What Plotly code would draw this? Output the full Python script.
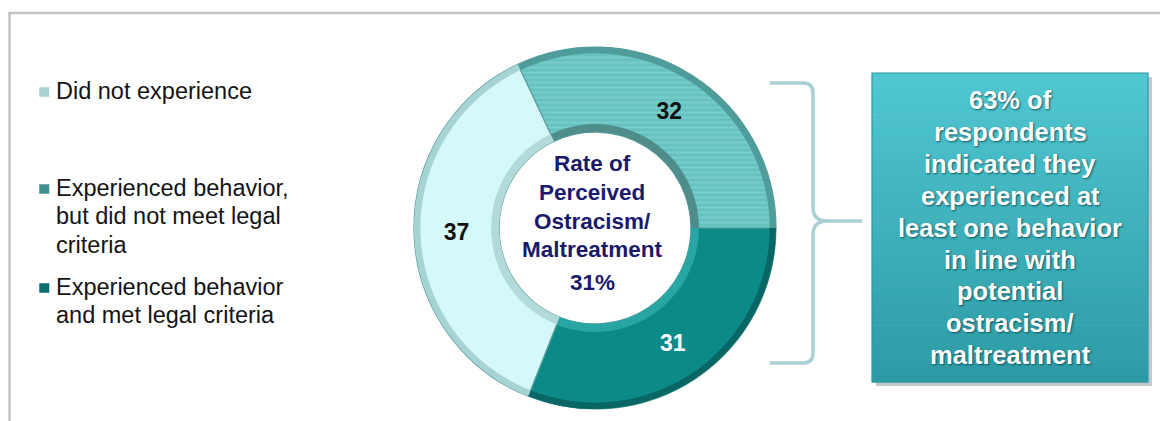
import plotly.graph_objects as go

W, H = 1160, 421

# ---- data -------------------------------------------------------------
categories = [
    "Did not experience",
    "Experienced behavior, but did not meet legal criteria",
    "Experienced behavior and met legal criteria",
]
legend_lines = [
    ["Did not experience"],
    ["Experienced behavior,", "but did not meet legal", "criteria"],
    ["Experienced behavior", "and met legal criteria"],
]
values = [37, 32, 31]
center_title = ["Rate of", "Perceived", "Ostracism/", "Maltreatment"]
callout_tail = ["respondents", "indicated they", "experienced at",
                "least one behavior", "in line with", "potential",
                "ostracism/", "maltreatment"]

# ---- styles -----------------------------------------------------------
FONT = "Liberation Sans, Arial, Helvetica, sans-serif"
slice_colors = ["#d5f8f8", "#66c2c0", "#0b8a87"]
rim_colors = ["#a6d3d3", "#4e9d9b", "#086764"]
inner_bevel_colors = ["#b2dada", "#4f8d8b", "#27a6a3"]
text_colors = ["#111111", "#111111", "#ffffff"]
legend_marker_colors = ["#a9d2d2", "#418f8f", "#0c6c6b"]
NAVY = "#1a1a6c"


def px(x):
    return x / W


def py(y):
    return 1 - y / H


# donut geometry in pixels
cx, cy, R = 595, 228, 181
HOLE = 0.53
r_in = R * HOLE
r_bevel = r_in + 8


def domain(r):
    return dict(x=[px(cx - r), px(cx + r)], y=[py(cy + r), py(cy - r)])


fig = go.Figure()

pie_common = dict(
    labels=categories,
    values=values,
    sort=False,
    direction="clockwise",
    rotation=201.6,
    showlegend=False,
)

# main ring
fig.add_trace(go.Pie(
    **pie_common,
    hole=HOLE,
    domain=domain(R),
    marker=dict(
        colors=slice_colors,
        line=dict(color="#5f9f9e", width=1.2),
        pattern=dict(shape=["", "-", ""],
                     fillmode="overlay",
                     fgcolor=["#ffffff", "#7dcfcd", "#ffffff"],
                     fgopacity=0.9,
                     size=5, solidity=0.35),
    ),
    texttemplate="%{value}",
    textposition="inside",
    insidetextorientation="horizontal",
    textfont=dict(family=FONT, size=23, color=text_colors, weight="bold"),
    hoverinfo="label+value",
))

# darker outer rim
fig.add_trace(go.Pie(
    **pie_common,
    hole=0.965,
    domain=domain(R),
    marker=dict(colors=rim_colors, line=dict(width=0)),
    textinfo="none",
    hoverinfo="skip",
))

# bevel around the hole
fig.add_trace(go.Pie(
    **pie_common,
    hole=r_in / r_bevel,
    domain=domain(r_bevel),
    marker=dict(colors=inner_bevel_colors, line=dict(width=0)),
    textinfo="none",
    hoverinfo="skip",
))

shapes = []
annotations = []


def text_line(x, y, text, size, color, bold=False, anchor="left", shadow=None):
    font = dict(family=FONT, size=size, color=color)
    if bold:
        font["weight"] = "bold"
    if shadow:
        font["shadow"] = shadow
    annotations.append(dict(
        xref="paper", yref="paper", x=px(x), y=py(y),
        xanchor=anchor, yanchor="middle", showarrow=False,
        text=text, font=font,
    ))


# frame lines (top and left)
shapes.append(dict(
    type="path", xref="paper", yref="paper",
    path=f"M {px(9.5)} {py(421)} L {px(9.5)} {py(13)} L {px(1160)} {py(13)}",
    line=dict(color="#c4c4c4", width=2.6),
))

# legend: square swatch + wrapped label, one line at a time
legend_first_line_y = [91, 188, 287]
LEGEND_STEP = 28.3
for lines, color, y in zip(legend_lines, legend_marker_colors, legend_first_line_y):
    shapes.append(dict(
        type="rect", xref="paper", yref="paper",
        x0=px(39), x1=px(49.5), y0=py(y - 4), y1=py(y + 6),
        fillcolor=color, line=dict(color="#ffffff", width=0.5),
    ))
    for i, line in enumerate(lines):
        text_line(54, y + i * LEGEND_STEP, line, 23.5, "#141414")

# centre label of the donut
for i, line in enumerate(center_title):
    text_line(592, 164 + i * 28.5, line, 22.5, NAVY, bold=True, anchor="center")
text_line(592, 282, f"{values[2]}%", 22.5, NAVY, bold=True, anchor="center")

# brace grouping the two "experienced" slices
brace = (
    "M {a} {b} L {c} {b} Q {d} {b} {d} {e} L {d} {f} Q {d} {g} {h} {g} L {i} {g} "
    "M {h} {g} Q {d} {g} {d} {j} L {d} {k} Q {d} {l} {c} {l} L {a} {l}"
).format(
    a=px(770), b=py(83), c=px(803), d=px(813), e=py(93), f=py(207),
    g=py(221), h=px(827), i=px(862), j=py(235), k=py(353), l=py(363),
)
shapes.append(dict(
    type="path", xref="paper", yref="paper", path=brace,
    line=dict(color="#a9d0d4", width=3.5),
))

# callout box: drop shadow, vertical gradient, border
bx0, bx1, by0, by1 = 872, 1148, 73, 382
shapes.append(dict(
    type="rect", xref="paper", yref="paper",
    x0=px(bx0 + 4), x1=px(bx1 + 4), y0=py(by1 + 4), y1=py(by0 + 4),
    fillcolor="rgba(80,100,105,0.35)", line=dict(width=0),
))
top_rgb, bot_rgb = (80, 199, 209), (44, 155, 165)
n_strips = 60
for k in range(n_strips):
    t = k / (n_strips - 1)
    c = tuple(round(a + (b - a) * t) for a, b in zip(top_rgb, bot_rgb))
    y0 = by0 + (by1 - by0) * k / n_strips
    y1 = by0 + (by1 - by0) * (k + 1) / n_strips
    shapes.append(dict(
        type="rect", xref="paper", yref="paper",
        x0=px(bx0), x1=px(bx1), y0=py(y1 + 0.5), y1=py(y0),
        fillcolor=f"rgb{c}", line=dict(width=0),
    ))
shapes.append(dict(
    type="rect", xref="paper", yref="paper",
    x0=px(bx0), x1=px(bx1), y0=py(by1), y1=py(by0),
    fillcolor="rgba(0,0,0,0)", line=dict(color="#2b9aa4", width=1.2),
))

callout_lines = [f"{values[1] + values[2]}% of"] + callout_tail
for i, line in enumerate(callout_lines):
    text_line(1010, 100 + i * 31.9, line, 25.5, "#ffffff", bold=True,
              anchor="center", shadow="1px 1px 2px rgba(0,55,65,0.75)")

fig.update_layout(
    width=W, height=H,
    margin=dict(l=0, r=0, t=0, b=0),
    paper_bgcolor="#ffffff",
    plot_bgcolor="#ffffff",
    shapes=shapes,
    annotations=annotations,
    font=dict(family=FONT),
)

fig.write_html("out.html")
